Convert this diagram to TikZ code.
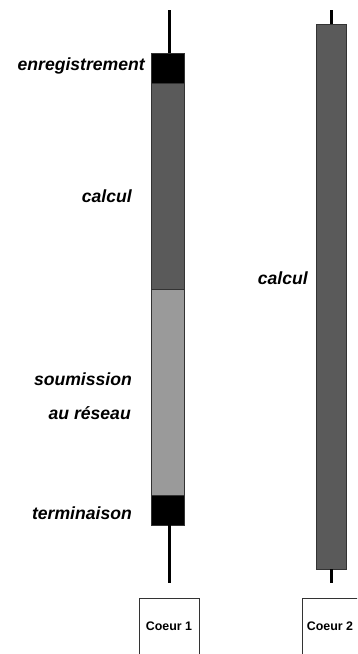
\documentclass[tikz,border=0pt]{standalone}
\usepackage{fontspec}
\setmainfont{Liberation Sans}
\definecolor{darkseg}{HTML}{5A5A5A}
\definecolor{lightseg}{HTML}{9A9A9A}
\tikzset{
  seg/.style={draw=black!80, line width=0.8pt, minimum width=#1, inner sep=0pt, outer sep=0pt},
  lbl/.style={font=\fontsize{17.6}{20}\selectfont\bfseries\itshape, inner sep=0pt, anchor=east},
  corebox/.style={draw=black!80, line width=0.8pt, fill=white},
  corelbl/.style={font=\fontsize{12.4}{14}\selectfont\bfseries, inner sep=0pt},
  wire/.style={line width=3pt}
}
\begin{document}
\begin{tikzpicture}[x=1pt,y=-1pt]
\useasboundingbox (0,0) rectangle (357,654);
\clip (0,0) rectangle (357,654);
% Core 1 timeline
\coordinate (c1top) at (169,10);
\coordinate (c1bot) at (169,583);
\node[seg=33pt, minimum height=30pt, fill=black, anchor=north] (enr) at (167.5,53) {};
\node[seg=33pt, minimum height=206pt, fill=darkseg, anchor=north] (calc1) at (167.5,83) {};
\node[seg=33pt, minimum height=206pt, fill=lightseg, anchor=north] (soum) at (167.5,289) {};
\node[seg=33pt, minimum height=30pt, fill=black, anchor=north] (term) at (167.5,495) {};
\draw[wire] (c1top) -- (c1top |- enr.north);
\draw[wire] (c1bot |- term.south) -- (c1bot);
% Core 2 timeline
\coordinate (c2top) at (331,10);
\coordinate (c2bot) at (331,583);
\node[seg=30pt, minimum height=545pt, fill=darkseg, anchor=north] (calc2) at (331,24) {};
\draw[wire] (c2top) -- (c2top |- calc2.north);
\draw[wire] (c2bot |- calc2.south) -- (c2bot);
% Labels
\node[lbl] (lenr) at (145,66) {enregistrement};
\node[lbl] (lcalc1) at (132,196) {calcul};
\node[lbl] (lsoum) at (132,379) {soumission};
\node[lbl] (lres) at (131,413) {au réseau};
\node[lbl] (lterm) at (132,513) {terminaison};
\node[lbl] (lcalc2) at (308,278) {calcul};
% Core boxes
\draw[corebox] (139,598) rectangle (199,664);
\draw[corebox] (302,598) rectangle (364,664);
\node[corelbl] (core1) at (169,626) {Coeur 1};
\node[corelbl] (core2) at (330,626) {Coeur 2};
\end{tikzpicture}
\end{document}
